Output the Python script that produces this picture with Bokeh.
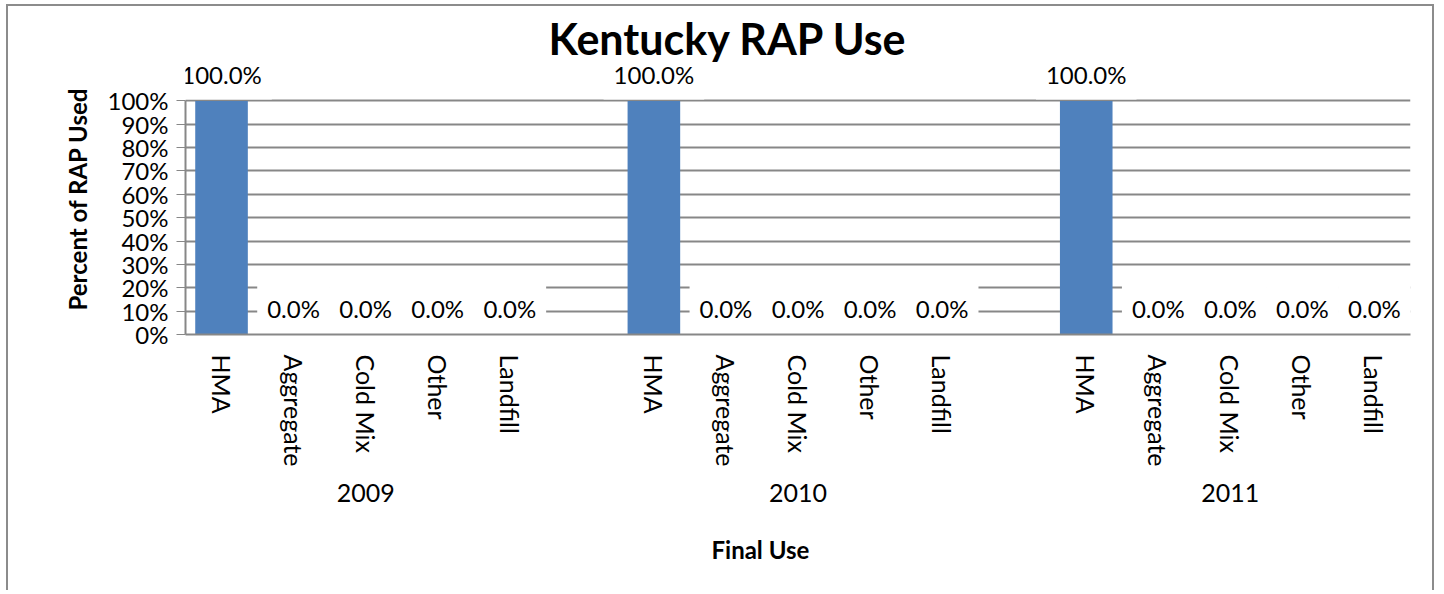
from bokeh.plotting import figure
from bokeh.models import (FactorRange, ColumnDataSource, LabelSet, Title,
                          NumeralTickFormatter, FixedTicker)
from bokeh.core.properties import value
from bokeh.embed import file_html
from bokeh.resources import INLINE

years = ["2009", "2010", "2011"]
uses = ["HMA", "Aggregate", "Cold Mix", "Other", "Landfill"]
share_2009 = [1.0, 0.0, 0.0, 0.0, 0.0]
share_2010 = [1.0, 0.0, 0.0, 0.0, 0.0]
share_2011 = [1.0, 0.0, 0.0, 0.0, 0.0]
y_ticks = [0.0, 0.1, 0.2, 0.3, 0.4, 0.5, 0.6, 0.7, 0.8, 0.9, 1.0]

FONT = "Lato"
GRID = "#878787"
BAR = "#4F81BD"

factors, vals = [], []
for yr, series in zip(years, [share_2009, share_2010, share_2011]):
    for u, v in zip(uses, series):
        factors.append((yr, u))
        vals.append(v)
labels = ["{:.1f}%".format(v * 100) for v in vals]
src = ColumnDataSource(dict(x=factors, v=vals, lab=labels))

xr = FactorRange(*factors, group_padding=1.0, factor_padding=0.0, range_padding=0.0)
p = figure(x_range=xr, y_range=(0, 1.16), width=1428, height=586,
           output_backend="svg", toolbar_location=None,
           min_border_left=177, min_border_right=26, min_border_top=57,
           min_border_bottom=256)
p.styles = {"border-left": "2px solid #8c8c8c", "border-top": "2px solid #8c8c8c",
            "border-right": "2px solid #8c8c8c", "margin-left": "6px",
            "margin-top": "4px"}

p.title = Title(text="Kentucky RAP Use", align="left", text_font=FONT,
                text_font_size="43px", text_font_style="bold", text_color="black",
                standoff=0, offset=363)

p.add_layout(Title(text="Final Use", align="left", text_font=FONT,
                   text_font_size="24px", text_font_style="bold", text_color="black",
                   standoff=57, offset=526), "below")

p.vbar(x="x", top="v", width=0.73, source=src, color=BAR, line_color=None)

# white label boxes behind the data labels
p.text(x="x", y="v", text="lab", source=src, y_offset=-26, text_alpha=0,
       text_align="center", text_baseline="middle", text_font=value(FONT),
       text_font_size="24px", background_fill_color="white", padding=10)

lbl = LabelSet(x="x", y="v", text="lab", source=src, y_offset=26,
               text_align="center", text_baseline="middle", text_font=value(FONT),
               text_font_size="24px", text_color="black")
p.add_layout(lbl)

# axes
p.yaxis.ticker = FixedTicker(ticks=y_ticks)
p.yaxis.bounds = (0, 1)
p.yaxis.formatter = NumeralTickFormatter(format="0%")
p.yaxis.axis_label = "Percent of RAP Used"
p.yaxis.axis_label_text_font = FONT
p.yaxis.axis_label_text_font_size = "24px"
p.yaxis.axis_label_text_font_style = "bold"
p.yaxis.axis_label_text_color = "black"
p.yaxis.axis_label_standoff = 13
p.yaxis.major_label_text_font = FONT
p.yaxis.major_label_text_font_size = "24px"
p.yaxis.major_label_text_color = "black"
p.yaxis.major_label_standoff = 8
p.yaxis.major_tick_out = 9
p.yaxis.major_tick_in = 0
p.yaxis.minor_tick_line_color = None
p.yaxis.major_tick_line_color = GRID
p.yaxis.axis_line_color = GRID
p.yaxis.axis_line_width = 2

p.xaxis.major_label_orientation = "vertical"
p.xaxis.major_label_text_font = FONT
p.xaxis.major_label_text_font_size = "25px"
p.xaxis.major_label_text_color = "black"
p.xaxis.major_label_standoff = 14
p.xaxis.group_text_font = FONT
p.xaxis.group_text_font_size = "25px"
p.xaxis.group_text_font_style = "normal"
p.xaxis.group_text_color = "black"
p.xaxis.separator_line_color = None
p.xaxis.major_tick_line_color = None
p.xaxis.axis_line_color = GRID
p.xaxis.axis_line_width = 2

p.xgrid.grid_line_color = None
p.ygrid.grid_line_color = GRID
p.ygrid.grid_line_width = 2
p.outline_line_color = None
p.background_fill_color = "white"
p.border_fill_color = "white"

open("out.html", "w").write(file_html(p, INLINE))
